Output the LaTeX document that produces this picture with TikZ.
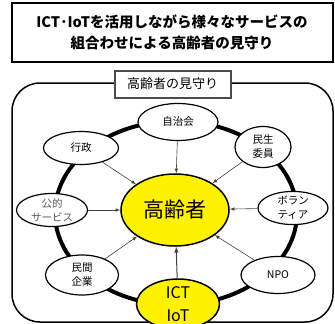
\documentclass[tikz,border=0pt]{standalone}
\usepackage{fontspec}
\setmainfont{Noto Sans CJK JP}
\usetikzlibrary{shapes.geometric}

\tikzset{
  member/.style={ellipse, draw, fill=white, line width=1.2pt, inner sep=0pt, align=center, font=\fontsize{10.5}{14}\selectfont},
  feed/.style={->, >=latex, gray!50!black, line width=0.6pt}
}

\begin{document}
\begin{tikzpicture}[x=1pt,y=-1pt]
    \useasboundingbox (0,0) rectangle (335,324);

    % Title box at the top
    \node[draw, line width=2pt, fill=white, minimum width=321pt, minimum height=59pt, align=center,
          font=\fontsize{14.5}{21}\selectfont\bfseries] (title) at (172,32)
          {ICT･IoTを活用しながら様々なサービスの\\組合わせによる高齢者の見守り};

    % Frame round the whole scheme
    \draw[line width=1.5pt, rounded corners=28pt] (12,83) rectangle (333,322);
    \node[draw=gray!60!black, line width=2pt, fill=white, minimum width=116pt, minimum height=27pt,
          font=\fontsize{13}{15}\selectfont] (label) at (172.5,84) {高齢者の見守り};

    % The ring which links the members (drawn first, behind the nodes)
    \draw[line width=4pt] (176,213) ellipse (121pt and 92pt);

    % Centre and members
    \node[ellipse, draw, fill=yellow, line width=1.5pt, minimum width=108pt, minimum height=72pt,
          font=\fontsize{21}{24}\selectfont] (elder) at (175,210) {高齢者};
    \node[member, minimum width=80pt, minimum height=37pt] (jichikai) at (178,122) {自治会};
    \node[member, minimum width=75pt, minimum height=33pt] (gyosei) at (81,148) {行政};
    \node[member, minimum width=56pt, minimum height=41pt] (minsei) at (263,147) {民生\\委員};
    \node[member, minimum width=71pt, minimum height=31pt, text=gray!70!black] (koteki) at (52,210) {公的\\サービス};
    \node[member, minimum width=70pt, minimum height=31pt] (volunteer) at (293,208) {ボラン\\ティア};
    \node[member, minimum width=73pt, minimum height=40pt] (minkan) at (82,275) {民間\\企業};
    \node[member, minimum width=74pt, minimum height=37pt] (npo) at (278,275) {NPO};
    \node[ellipse, draw, fill=yellow, line width=1.5pt, minimum width=83pt, minimum height=50pt, inner sep=0pt,
          align=center, font=\fontsize{16}{23}\selectfont] (ict) at (178,304) {ICT\\IoT};

    % Arrows towards the elderly
    \draw[feed] (jichikai) -- (elder);
    \draw[feed] (gyosei) -- (elder);
    \draw[feed] (minsei) -- (elder);
    \draw[feed] (koteki) -- (elder);
    \draw[feed] (volunteer) -- (elder);
    \draw[feed] (minkan) -- (elder);
    \draw[feed] (npo) -- (elder);
    \draw[feed, line width=1pt] (ict) -- (elder);
\end{tikzpicture}
\end{document}
